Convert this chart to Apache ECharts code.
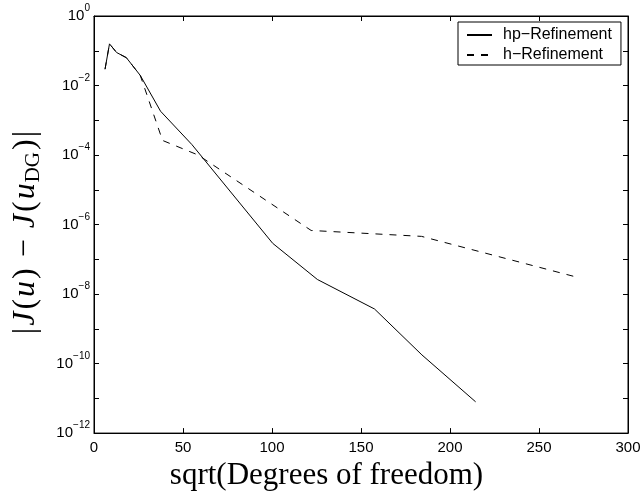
<!DOCTYPE html>
<html>
<head>
<meta charset="utf-8">
<script src="https://cdn.jsdelivr.net/npm/echarts@6/dist/echarts.min.js"></script>
<style>
html,body{margin:0;padding:0;background:#fff;}
#chart{width:644px;height:496px;}
</style>
</head>
<body>
<div id="chart"></div>
<script>
// hp-Refinement (solid)
const hpX = [6.2, 8.7, 12.7, 18.2, 26, 37.4, 55, 100.4, 125.5, 157.6, 184.2, 214.4];
const hpY = [2.95e-2, 1.58e-1, 8.91e-2, 6.31e-2, 1.95e-2, 1.82e-3, 2.0e-4, 2.88e-7, 2.63e-8, 3.72e-9, 1.78e-10, 7.94e-12];
// h-Refinement (dashed)
const hX = [6.2, 8.7, 12.7, 18.2, 26, 38.5, 58.5, 122, 184, 272.5];
const hY = [2.95e-2, 1.58e-1, 8.91e-2, 6.31e-2, 1.95e-2, 2.63e-4, 1.0e-4, 6.76e-7, 4.57e-7, 2.95e-8];

const seriesNames = ['hp\u2212Refinement', 'h\u2212Refinement'];
const xTickValues = [0, 50, 100, 150, 200, 250, 300];
const yTickValues = [1, 1e-1, 1e-2, 1e-3, 1e-4, 1e-5, 1e-6, 1e-7, 1e-8, 1e-9, 1e-10, 1e-11, 1e-12];
const yLabelValues = [1, 1e-2, 1e-4, 1e-6, 1e-8, 1e-10, 1e-12];
const xTitle = 'sqrt(Degrees of freedom)';

const chart = echarts.init(document.getElementById('chart'), null, {renderer: 'canvas'});

const sans = 'Liberation Sans';
const serif = 'Liberation Serif';

function pairs(xs, ys) { return xs.map((x, i) => [x, ys[i]]); }

function axisLine() { return {show: true, onZero: false, lineStyle: {color: '#000', width: 1}}; }
function tick(extra) { return Object.assign({show: true, inside: true, length: 5, lineStyle: {color: '#000', width: 1}}, extra || {}); }

function yLabelFormatter(v) {
  const e = Math.round(Math.log10(v));
  const s = e < 0 ? '\u2212' + (-e) : String(e);
  return '{b|10}{s|' + s + '}';
}

const option = {
  animation: false,
  backgroundColor: '#fff',
  grid: {show: true, left: 94, right: 16, top: 16, bottom: 58, containLabel: false,
         borderColor: '#000', borderWidth: 1, backgroundColor: 'transparent'},
  legend: {
    orient: 'vertical',
    left: 458,
    top: 22,
    padding: [3, 9, 0, 8],
    itemGap: 0,
    itemWidth: 25,
    itemHeight: 14,
    backgroundColor: '#fff',
    borderColor: '#000',
    borderWidth: 1,
    borderRadius: 0,
    itemStyle: {opacity: 0},
    textStyle: {fontFamily: sans, fontSize: 16, color: '#000', lineHeight: 20, padding: [0, 0, 0, 6]},
    data: seriesNames
  },
  xAxis: [{
    type: 'value',
    gridIndex: 0,
    min: 0, max: 300, interval: 50,
    position: 'bottom',
    axisLine: axisLine(),
    axisTick: tick(),
    splitLine: {show: false},
    axisLabel: {
      fontFamily: sans, fontSize: 15, color: '#000', margin: 7,
      formatter: v => xTickValues.includes(v) ? String(v) : ''
    },
    name: xTitle,
    nameLocation: 'middle',
    nameGap: 26,
    nameTextStyle: {fontFamily: serif, fontSize: 31, color: '#000', padding: [0, 69, 0, 0]}
  }, {
    type: 'value',
    show: true,
    gridIndex: 0,
    min: 0, max: 300, interval: 50,
    position: 'top',
    axisLine: axisLine(),
    axisTick: tick(),
    splitLine: {show: false},
    axisLabel: {show: false}
  }],
  yAxis: [{
    type: 'log',
    gridIndex: 0,
    logBase: 10,
    min: 1e-12, max: 1,
    position: 'left',
    axisLine: axisLine(),
    axisTick: tick({customValues: yTickValues}),
    splitLine: {show: false},
    minorTick: {show: false},
    axisLabel: {
      margin: 4,
      color: '#000',
      customValues: yLabelValues,
      formatter: yLabelFormatter,
      rich: {
        b: {fontFamily: sans, fontSize: 15, color: '#000', lineHeight: 25},
        s: {fontFamily: sans, fontSize: 10, color: '#000', lineHeight: 10, verticalAlign: 'top'}
      }
    },
    name: '{r||}{i|J}{r|(}{i|u}{r|)}{m|\u2212}{i|J}{r|(}{i|u}{sub|DG}{r|)}{r||}{gap| }',
    nameLocation: 'middle',
    nameGap: 50,
    nameRotate: 90,
    nameTextStyle: {
      fontFamily: serif, fontSize: 32, color: '#000',
      rich: {
        r: {fontFamily: serif, fontSize: 32, color: '#000', lineHeight: 36, padding: [0, 1, 0, 1]},
        i: {fontFamily: serif, fontStyle: 'italic', fontSize: 32, color: '#000', lineHeight: 36, padding: [0, 1, 0, 1]},
        m: {fontFamily: serif, fontSize: 32, color: '#000', lineHeight: 36, padding: [0, 10, 0, 10]},
        sub: {fontFamily: serif, fontSize: 21, color: '#000', lineHeight: 21, verticalAlign: 'bottom', padding: [0, 1, 0, 0]},
        gap: {fontSize: 10, width: 16}
      }
    }
  }, {
    type: 'log',
    show: true,
    gridIndex: 0,
    logBase: 10,
    min: 1e-12, max: 1,
    position: 'right',
    axisLine: axisLine(),
    axisTick: tick({customValues: yTickValues}),
    splitLine: {show: false},
    axisLabel: {show: false}
  }],
  series: [{
    name: seriesNames[0],
    type: 'line',
    xAxisIndex: 0, yAxisIndex: 0,
    symbol: 'none',
    data: pairs(hpX, hpY),
    lineStyle: {color: '#000', width: 1, type: 'solid'},
    itemStyle: {color: '#000'}
  }, {
    name: seriesNames[1],
    type: 'line',
    xAxisIndex: 0, yAxisIndex: 0,
    symbol: 'none',
    data: pairs(hX, hY),
    lineStyle: {color: '#000', width: 1, type: [7, 7]},
    itemStyle: {color: '#000'}
  }]
};

chart.setOption(option);
</script>
</body>
</html>
